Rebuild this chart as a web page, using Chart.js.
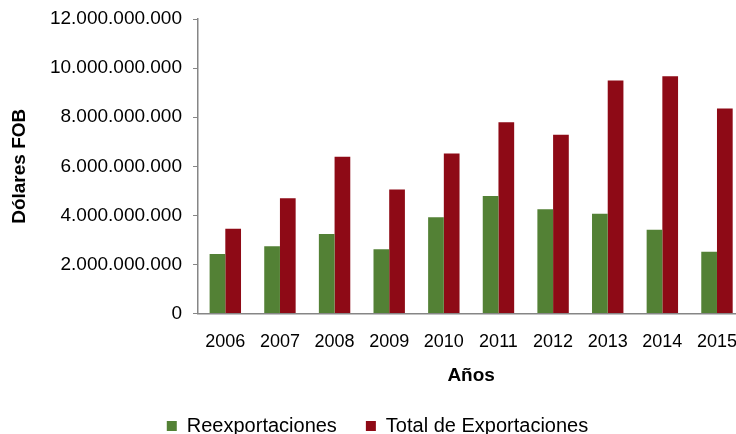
<!DOCTYPE html>
<html>
<head>
<meta charset="utf-8">
<script src="https://cdn.jsdelivr.net/npm/chart.js@4"></script>
<style>
  html, body { margin: 0; padding: 0; background: #fff; }
  #frame { width: 736px; height: 434px; overflow: hidden; }
  /* the original plot runs a few pixels past the right edge of the picture */
  #wrap { width: 747px; height: 434px; }
</style>
</head>
<body>
<div id="frame"><div id="wrap"><canvas id="exportChart"></canvas></div></div>
<script>
// Data (US$ FOB)
const years = ['2006', '2007', '2008', '2009', '2010', '2011', '2012', '2013', '2014', '2015'];
const reexportaciones = [2430000000, 2740000000, 3240000000, 2620000000, 3920000000, 4790000000, 4250000000, 4070000000, 3420000000, 2520000000];
const totalExportaciones = [3460000000, 4700000000, 6390000000, 5060000000, 6520000000, 7790000000, 7290000000, 9490000000, 9670000000, 8350000000];
const yTicks = [0, 2000000000, 4000000000, 6000000000, 8000000000, 10000000000, 12000000000];

const font = "'Liberation Sans', Arial, sans-serif";
const axisColor = '#868686';

function formatDots(v) {
    return String(v).replace(/\B(?=(\d{3})+(?!\d))/g, '.');
}

document.addEventListener('DOMContentLoaded', function() {
    const ctx = document.getElementById('exportChart').getContext('2d');

    new Chart(ctx, {
        type: 'bar',
        data: {
            labels: years,
            datasets: [{
                label: 'Reexportaciones',
                data: reexportaciones,
                backgroundColor: '#538135'
            }, {
                label: 'Total de Exportaciones',
                data: totalExportaciones,
                backgroundColor: '#8E0A16'
            }]
        },
        options: {
            responsive: true,
            maintainAspectRatio: false,
            animation: false,
            layout: {
                padding: { top: 19, right: 0, left: 8, bottom: -12 }
            },
            datasets: {
                bar: { categoryPercentage: 0.575, barPercentage: 1.0 }
            },
            scales: {
                x: {
                    grid: { display: false },
                    border: { display: true, color: axisColor, width: 1.5 },
                    ticks: {
                        color: '#000',
                        font: { family: font, size: 18 },
                        padding: 10
                    },
                    title: {
                        display: true,
                        text: 'Años',
                        color: '#000',
                        font: { family: font, size: 19, weight: 'bold' },
                        padding: { top: 1, bottom: 0 }
                    }
                },
                y: {
                    min: 0,
                    max: 12000000000,
                    afterBuildTicks: function(scale) {
                        scale.ticks = yTicks.map(v => ({ value: v }));
                    },
                    afterFit: function(scale) {
                        scale.width = 190;
                        scale.paddingTop = 0;
                        scale.paddingBottom = 0;
                    },
                    grid: {
                        display: true,
                        drawOnChartArea: false,
                        drawTicks: true,
                        tickLength: 5,
                        color: axisColor
                    },
                    border: { display: true, color: axisColor, width: 1.5 },
                    ticks: {
                        color: '#000',
                        font: { family: font, size: 19 },
                        padding: 11,
                        callback: function(v) { return formatDots(v); }
                    },
                    title: {
                        display: true,
                        text: 'Dólares FOB',
                        color: '#000',
                        font: { family: font, size: 19, weight: 'bold' },
                        padding: { top: 0, bottom: 0 }
                    }
                }
            },
            plugins: {
                legend: {
                    position: 'bottom',
                    labels: {
                        color: '#000',
                        boxWidth: 10,
                        boxHeight: 10,
                        padding: 29,
                        font: { family: font, size: 20 }
                    }
                },
                tooltip: { enabled: false }
            }
        }
    });
});
</script>
</body>
</html>
